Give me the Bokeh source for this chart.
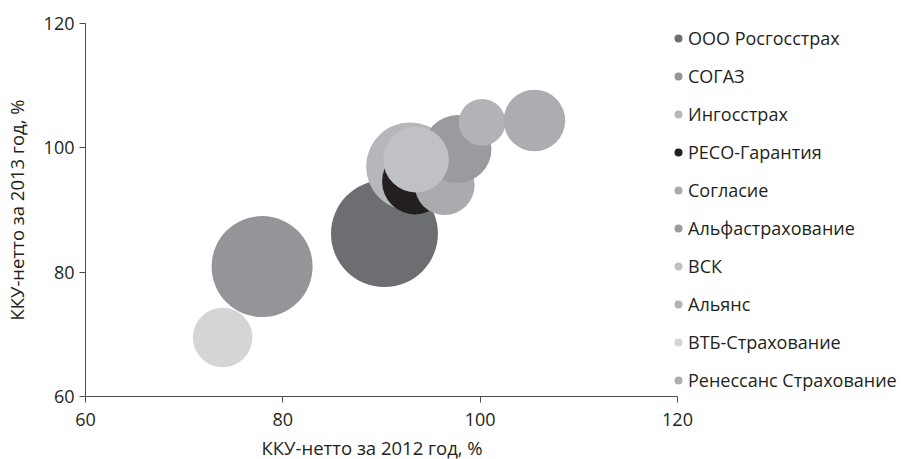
from bokeh.plotting import figure
from bokeh.models import Legend, LegendItem, Range1d, FixedTicker, Title
from bokeh.embed import file_html
from bokeh.resources import INLINE

# ---- data ----
companies = ["ООО Росгосстрах", "СОГАЗ", "Ингосстрах", "РЕСО-Гарантия", "Согласие",
             "Альфастрахование", "ВСК", "Альянс", "ВТБ-Страхование", "Ренессанс Страхование"]
kku_2012 = [90.3, 77.9, 92.9, 93.4, 96.4, 97.7, 93.5, 100.2, 73.9, 105.5]
kku_2013 = [86.2, 80.9, 97.0, 94.6, 94.0, 99.8, 98.1, 104.1, 69.5, 104.4]
bubble_size = [100.0, 89.1, 67.6, 38.0, 31.4, 40.4, 37.6, 19.0, 31.0, 33.1]
colors = ["#6d6e71", "#939598", "#b6b7ba", "#231f20", "#a9abae",
          "#9a9b9e", "#c0c1c4", "#b2b3b6", "#d4d5d7", "#acadb0"]
x_ticks = [60, 80, 100, 120]
y_ticks = [60, 80, 100, 120]
x_title = "ККУ-нетто за 2012 год, %"
y_title = "ККУ-нетто за 2013 год, %"

FONT = "Open Sans"
TXT = "#231f20"
MAX_DIAM = 107.0

PLOT_W = 592      # pixel width of the 60..120 data area
LEGEND_W = 224    # extra room to the right for the legend
x_end = 120 + 60 * LEGEND_W / PLOT_W

p = figure(frame_width=PLOT_W + LEGEND_W, frame_height=373,
           min_border_left=79, min_border_right=0, min_border_top=23, min_border_bottom=0,
           x_range=Range1d(60, x_end), y_range=Range1d(60, 120),
           output_backend="svg", toolbar_location=None)
p.outline_line_color = None
p.xgrid.visible = False
p.ygrid.visible = False

items = []
for name, x, y, s, c in zip(companies, kku_2012, kku_2013, bubble_size, colors):
    r = p.scatter(x=[x], y=[y], size=MAX_DIAM * (s / 100.0) ** 0.5,
                  fill_color=c, line_color=None, marker="circle")
    items.append(LegendItem(label=name, renderers=[r]))

for ax, ticks in ((p.xaxis[0], x_ticks), (p.yaxis[0], y_ticks)):
    ax.ticker = FixedTicker(ticks=ticks)
    ax.minor_tick_line_color = None
    ax.major_tick_in = 0
    ax.major_tick_out = 6
    ax.axis_line_color = "#4d4d4f"
    ax.major_tick_line_color = "#4d4d4f"
    ax.major_label_text_font = FONT
    ax.major_label_text_font_size = "18px"
    ax.major_label_text_color = TXT
    ax.axis_label_text_font = FONT
    ax.axis_label_text_font_size = "18.5px"
    ax.axis_label_text_font_style = "normal"
    ax.axis_label_text_color = TXT

p.xaxis[0].bounds = (60, 120)
p.yaxis[0].axis_label = y_title
p.xaxis[0].major_label_standoff = 10
p.yaxis[0].major_label_standoff = 5
p.yaxis[0].axis_label_standoff = 12

xt = Title(text=x_title, align="left", offset=176, standoff=8,
           text_font=FONT, text_font_size="18.5px", text_font_style="normal",
           text_color=TXT)
p.add_layout(xt, "below")

legend = Legend(items=items, location=(583, 4), orientation="vertical",
                glyph_width=20, glyph_height=20, label_height=20, spacing=14,
                label_standoff=0, padding=0, margin=0,
                border_line_color=None, background_fill_alpha=0,
                label_text_font=FONT, label_text_font_size="18px",
                label_text_color=TXT)
p.add_layout(legend, "center")

open("out.html", "w").write(file_html(p, INLINE))
